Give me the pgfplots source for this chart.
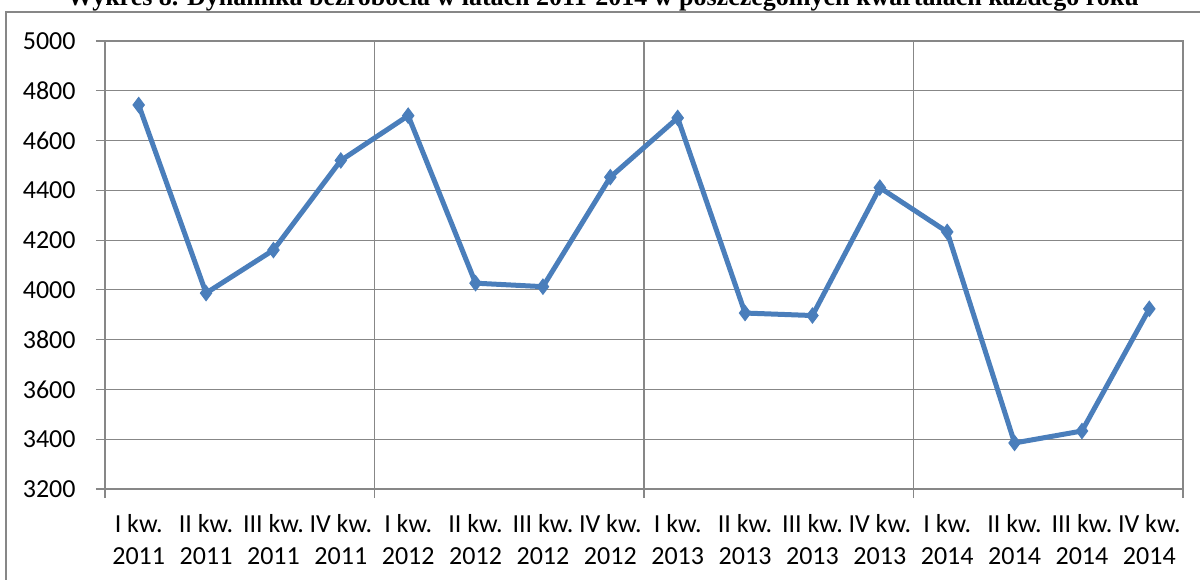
\documentclass[border=0pt]{standalone}
\usepackage{fontspec}
\setmainfont{Carlito}
\newfontfamily\titlefont{Liberation Serif}
\usepackage{pgfplots}
\pgfplotsset{compat=1.18}
\definecolor{series}{HTML}{4A7EBB}
\definecolor{gridgray}{HTML}{878787}
\begin{document}
\begin{tikzpicture}
\begin{axis}[
  scale only axis,
  width=539pt, height=224pt,
  xmin=-0.5, xmax=15.5,
  ymin=3200, ymax=5000,
  ytick={3200,3400,...,5000},
  xtick={-0.5,3.5,7.5,11.5,15.5},
  xticklabels={},
  extra x ticks={0,...,15},
  extra x tick labels={{I kw.\\2011},{II kw.\\2011},{III kw.\\2011},{IV kw.\\2011},
    {I kw.\\2012},{II kw.\\2012},{III kw.\\2012},{IV kw.\\2012},
    {I kw.\\2013},{II kw.\\2013},{III kw.\\2013},{IV kw.\\2013},
    {I kw.\\2014},{II kw.\\2014},{III kw.\\2014},{IV kw.\\2014}},
  extra x tick style={major tick length=0pt, grid=none},
  xmajorgrids=true, ymajorgrids=true,
  grid style={gridgray, line width=0.6pt},
  axis line style={gridgray, line width=0.6pt},
  tick style={gridgray, line width=0.6pt},
  tick align=outside,
  major tick length=4.5pt,
  xtick pos=bottom, ytick pos=left,
  /pgf/number format/assume math mode=true,
  /pgf/number format/1000 sep={},
  yticklabel style={font=\fontsize{13}{14}\selectfont, anchor=east, inner sep=0pt, xshift=-10pt},
  xticklabel style={font=\fontsize{13}{16}\selectfont, align=center, anchor=north, inner sep=0pt, yshift=-12.5pt},
]
\addplot[series, line width=2.5pt, mark=diamond*, mark size=3.8pt, mark options={solid, fill=series, line width=0.5pt}]
coordinates {
(0,4743) (1,3987) (2,4160) (3,4520) (4,4700) (5,4027) (6,4013) (7,4453)
(8,4691) (9,3907) (10,3897) (11,4411) (12,4233) (13,3385) (14,3433) (15,3924)
};
\end{axis}
\draw[gridgray, line width=1pt] (-49.5pt,-60pt) -- (-49.5pt,238.5pt) -- (560pt,238.5pt);
\node[anchor=base, inner sep=0pt, font=\titlefont\bfseries\fontsize{13}{15}\selectfont] at (249pt,241.5pt)
  {Wykres 8. Dynamika bezrobocia w latach 2011-2014 w poszczególnych kwartałach każdego roku};
\pgfresetboundingbox
\useasboundingbox (-52.5pt,-45pt) rectangle (547.5pt,244.5pt);
\end{tikzpicture}
\end{document}
